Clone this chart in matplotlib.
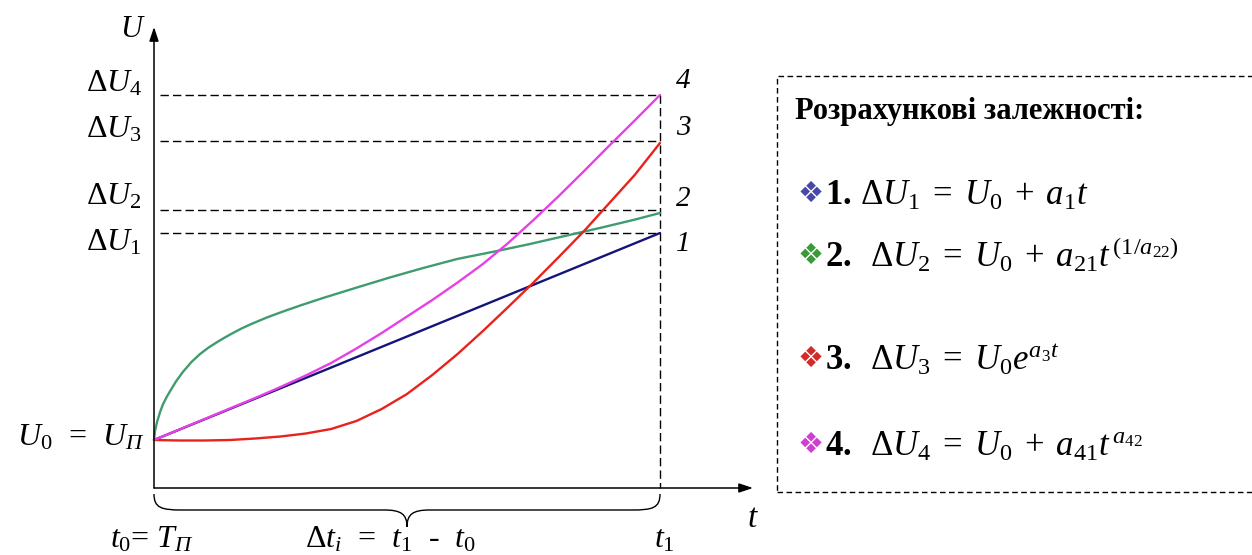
import matplotlib
matplotlib.use('Agg')
import matplotlib.pyplot as plt
from matplotlib.path import Path
from matplotlib.patches import PathPatch, Rectangle

# ---------------- data ----------------
t_end = 10.0          # t1
u_start = 1.00        # U0 = U_П

t_blue = [0.0, 10.0]
u_blue = [1.00, 3.07]

t_green = [0.0, 0.02, 0.06, 0.12, 0.18, 0.25, 0.32, 0.44, 0.57, 0.74, 0.91, 1.08,
           1.25, 1.40, 1.56, 1.73, 1.90, 2.23, 2.55, 2.89, 3.34, 4.01, 4.66, 5.32,
           5.99, 6.78, 7.43, 8.16, 8.81, 9.47, 10.0]
u_green = [1.00, 1.09, 1.18, 1.28, 1.36, 1.43, 1.49, 1.59, 1.68, 1.78, 1.86, 1.925,
           1.98, 2.025, 2.07, 2.115, 2.155, 2.225, 2.285, 2.345, 2.42, 2.525, 2.625, 2.72,
           2.81, 2.89, 2.96, 3.045, 3.12, 3.20, 3.27]

t_red = [0.0, 0.5, 1.0, 1.5, 2.0, 2.5, 3.0, 3.5, 4.0, 4.5, 5.0, 5.5, 6.0, 6.5, 7.0,
         7.5, 8.0, 8.5, 9.0, 9.5, 10.0]
u_red = [1.00, 0.995, 0.995, 1.00, 1.015, 1.035, 1.065, 1.11, 1.19, 1.31, 1.46, 1.65,
         1.86, 2.09, 2.33, 2.575, 2.83, 3.09, 3.37, 3.65, 3.97]

t_mag = [0.0, 1.0, 2.0, 2.5, 3.0, 3.5, 4.0, 4.5, 5.0, 5.5, 6.0, 6.5, 7.0, 7.5, 8.0,
         8.5, 9.0, 9.5, 10.0]
u_mag = [1.00, 1.21, 1.42, 1.53, 1.645, 1.77, 1.915, 2.07, 2.235, 2.40, 2.575, 2.76,
         2.97, 3.20, 3.44, 3.69, 3.945, 4.195, 4.45]

levels = [3.07, 3.30, 3.99, 4.45]          # ΔU1..ΔU4
level_labels = [r'$\Delta U_{\mathit{1}}$', r'$\Delta U_{\mathit{2}}$',
                r'$\Delta U_{\mathit{3}}$', r'$\Delta U_{\mathit{4}}$']
curve_numbers = ['1', '2', '3', '4']

colors = ['#14147a', '#3f9c6e', '#e8221c', '#e640e6']
bullet_colors = ['#4848a8', '#3a9a3a', '#d42a2a', '#d040d0']

title = 'Розрахункові залежності:'
items = [r'$\mathbf{1.}\,\Delta U_{\mathit{1}}\;=\;U_{\mathit{0}}\;+\;a_{\mathit{1}}t$',
         r'$\mathbf{2.}\;\;\Delta U_2\;=\;U_0\;+\;a_{21}t^{\,(1/a_{22})}$',
         r'$\mathbf{3.}\;\;\Delta U_3\;=\;U_0e^{a_3t}$',
         r'$\mathbf{4.}\;\;\Delta U_4\;=\;U_0\;+\;a_{41}t^{\,a_{42}}$']

# ---------------- style ----------------
plt.rcParams['mathtext.fontset'] = 'custom'
plt.rcParams['mathtext.rm'] = 'Liberation Serif'
plt.rcParams['mathtext.it'] = 'Liberation Serif:italic'
plt.rcParams['mathtext.bf'] = 'Liberation Serif:bold'
plt.rcParams['font.family'] = ['Liberation Serif', 'DejaVu Sans']

fig = plt.figure(figsize=(12.52, 5.55), dpi=100)
ax = fig.add_axes([0, 0, 1, 1])

# layout helpers: pixel position -> data coordinates
X0, Y0, PX_T, PX_U = 154.0, 440.0, 50.6, 100.0
def P(x, y):
    return ((x - X0) / PX_T, u_start + (Y0 - y) / PX_U)

ax.set_xlim(P(0, 0)[0], P(1252, 0)[0])
ax.set_ylim(P(0, 555)[1], P(0, 0)[1])
ax.axis('off')

u_axis = P(0, 488)[1]

# axes with arrows
arrow = dict(arrowstyle='-|>,head_length=0.6,head_width=0.2', lw=1.1,
             color='black', mutation_scale=14, shrinkA=0, shrinkB=0)
ax.annotate('', xy=(0, P(0, 27)[1]), xytext=(0, u_axis), arrowprops=arrow)
ax.annotate('', xy=(P(753, 0)[0], u_axis), xytext=(0, u_axis), arrowprops=arrow)

# dashed guide lines
dash = (0, (6, 3))
t_dash0 = P(160, 0)[0]
for lv in levels:
    ax.plot([t_dash0, t_end], [lv, lv], color='black', lw=1.0, linestyle=dash)
ax.plot([t_end, t_end], [max(levels), u_axis], color='black', lw=1.0, linestyle=dash)

# curves
for tt, uu, c in [(t_green, u_green, colors[1]), (t_blue, u_blue, colors[0]),
                  (t_red, u_red, colors[2]), (t_mag, u_mag, colors[3])]:
    ax.plot(tt, uu, color=c, lw=1.7, solid_joinstyle='round', solid_capstyle='round')

# labels on the left
fs = 23
ax.text(P(146, 0)[0], P(0, 37)[1], r'$U$', fontsize=22, ha='right', va='baseline')
lab_base = [250, 204, 137, 92]
for lbl, yb in zip(level_labels, lab_base):
    ax.text(P(142, 0)[0], P(0, yb)[1], lbl, fontsize=fs, ha='right', va='baseline')
ax.text(P(144, 0)[0], P(0, 445)[1], r'$U_{\mathit{0}}$  =  $U_{\mathit{П}}$',
        fontsize=fs, ha='right', va='baseline')

# curve numbers
num_base = [251, 206, 135, 88]
for n, yb in zip(curve_numbers, num_base):
    ax.text(P(676, 0)[0], P(0, yb)[1], n, fontsize=21, style='italic',
            ha='left', va='baseline')

# brace under the time axis
ub_top, ub_mid, ub_tip = P(0, 494)[1], P(0, 510)[1], P(0, 527)[1]
tm = t_end / 2
verts = [(0, ub_top), (0, ub_mid + 0.02), (0.15, ub_mid), (0.55, ub_mid),
         (tm - 0.45, ub_mid),
         (tm - 0.12, ub_mid), (tm, ub_mid - 0.04), (tm, ub_tip),
         (tm, ub_mid - 0.04), (tm + 0.12, ub_mid), (tm + 0.45, ub_mid),
         (t_end - 0.55, ub_mid),
         (t_end - 0.15, ub_mid), (t_end, ub_mid + 0.02), (t_end, ub_top)]
codes = [Path.MOVETO, Path.CURVE4, Path.CURVE4, Path.CURVE4, Path.LINETO,
         Path.CURVE4, Path.CURVE4, Path.CURVE4,
         Path.CURVE4, Path.CURVE4, Path.CURVE4, Path.LINETO,
         Path.CURVE4, Path.CURVE4, Path.CURVE4]
ax.add_patch(PathPatch(Path(verts, codes), fill=False, lw=1.0, edgecolor='black'))

# time-axis labels
yb = P(0, 548)[1]
ax.text(P(110, 0)[0], yb, r'$t_{\mathit{0}}$= $T_{\mathit{П}}$', fontsize=fs,
        ha='left', va='baseline')
ax.text(P(305, 0)[0], yb,
        r'$\Delta t_{\mathit{i}}$  =  $t_{\mathit{1}}$  -  $t_{\mathit{0}}$',
        fontsize=fs, ha='left', va='baseline')
ax.text(P(664, 0)[0], yb, r'$t_{\mathit{1}}$', fontsize=fs, ha='center', va='baseline')
ax.text(P(753, 0)[0], P(0, 527)[1], r'$t$', fontsize=24, ha='center', va='baseline')

# formulas box
bx0, by0 = P(777, 492)
bx1, by1 = P(1262, 76)
ax.add_patch(Rectangle((bx0, by0), bx1 - bx0, by1 - by0, fill=False,
                       edgecolor='black', lw=1.0, linestyle=(0, (4, 2.5)),
                       clip_on=False))
ax.text(P(795, 0)[0], P(0, 119)[1], title, fontsize=22, fontweight='bold',
        ha='left', va='baseline')
item_base = [205, 267, 370, 456]
for it, c, ybase in zip(items, bullet_colors, item_base):
    ax.text(P(811, 0)[0], P(0, ybase - 11)[1], '\u2756', fontsize=21, color=c,
            family='DejaVu Sans', ha='center', va='center')
    ax.text(P(825, 0)[0], P(0, ybase)[1], it, fontsize=25, ha='left', va='baseline')

fig.savefig('out.png', dpi=100)
